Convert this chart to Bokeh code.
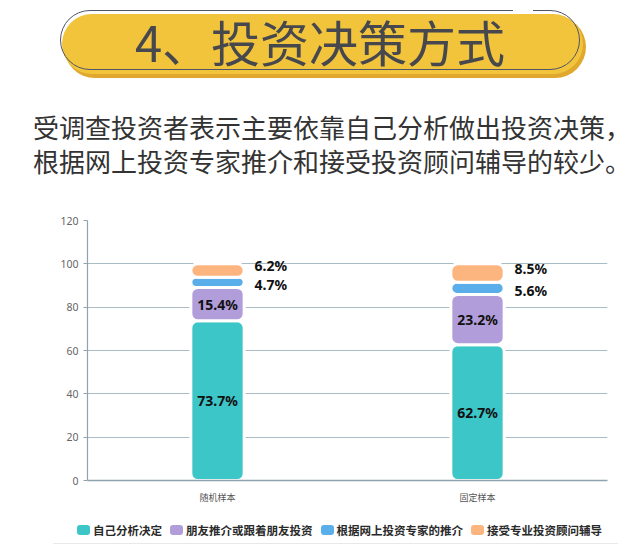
import numpy as np
from bokeh.plotting import figure
from bokeh.layouts import column
from bokeh.models import ColumnDataSource, Range1d, FactorRange, FixedTicker, Div
from bokeh.core.properties import value
from bokeh.embed import file_html
from bokeh.resources import INLINE

# ---- data ----
title_text = "4、投资决策方式"
para_lines = ["受调查投资者表示主要依靠自己分析做出投资决策，",
              "根据网上投资专家推介和接受投资顾问辅导的较少。"]
samples = ["随机样本", "固定样本"]
series_names = ["自己分析决定", "朋友推介或跟着朋友投资", "根据网上投资专家的推介", "接受专业投资顾问辅导"]
self_analysis = [73.7, 62.7]
friends = [15.4, 23.2]
online_experts = [4.7, 5.6]
advisors = [6.2, 8.5]
y_ticks = [0, 20, 40, 60, 80, 100, 120]

colors = ["#3cc6c8", "#b29ddb", "#5aaee9", "#fdb580"]
CJK = "Noto Sans CJK SC"

# ---- header (HTML) ----
abs_ = "position:absolute;"
header_html = f"""
<div style="position:relative;width:640px;height:200px;font-family:'{CJK}';margin:0;padding:0;">
  <div style="{abs_}left:64px;top:16px;width:522px;height:62px;border-radius:31px;background:#e0a82c;"></div>
  <div style="{abs_}left:62px;top:14px;width:521px;height:60px;border-radius:30px;background:#f2c43c;"></div>
  <div style="{abs_}left:60px;top:10px;width:520px;height:60px;border-radius:30px;border:1.5px solid #4e5566;box-sizing:border-box;"></div>
  <div style="{abs_}left:513px;top:7px;width:20px;height:6px;background:#ffffff;"></div>
  <div style="{abs_}left:0px;top:13px;width:640px;text-align:center;font-size:49px;line-height:56px;color:#46484e;white-space:nowrap;">{title_text}</div>
  <div style="{abs_}left:33px;top:111px;font-size:26px;line-height:32px;color:#333333;white-space:nowrap;">{para_lines[0]}</div>
  <div style="{abs_}left:33px;top:145px;font-size:26px;line-height:32px;color:#333333;white-space:nowrap;">{para_lines[1]}</div>
</div>
"""
head = Div(text=header_html, width=640, height=200, margin=0)

# ---- chart ----
p = figure(frame_width=520, frame_height=260, x_range=FactorRange(*samples),
           y_range=Range1d(0, 120), output_backend="svg", toolbar_location=None,
           min_border_left=87, min_border_right=33, min_border_top=20, min_border_bottom=20,
           margin=0)
p.outline_line_color = None
p.xgrid.visible = False
p.ygrid.grid_line_color = "#aabdc6"
p.ygrid.grid_line_width = 1.2
p.yaxis.ticker = FixedTicker(ticks=y_ticks)
p.yaxis.axis_line_color = "#8ea3ad"
p.yaxis.axis_line_width = 1.2
p.yaxis.major_tick_line_color = "#8ea3ad"
p.yaxis.major_tick_out = 4
p.yaxis.major_tick_in = 0
p.yaxis.minor_tick_line_color = None
p.yaxis.major_label_text_font_size = "10.5px"
p.yaxis.major_label_text_color = "#666666"
p.yaxis.major_label_text_font = "Noto Sans"
p.xaxis.axis_line_color = "#8ea3ad"
p.xaxis.axis_line_width = 1.5
p.xaxis.major_tick_line_color = None
p.xaxis.minor_tick_line_color = None
p.xaxis.major_label_text_font_size = "9px"
p.xaxis.major_label_text_color = "#555555"
p.xaxis.major_label_text_font = CJK
p.xaxis.major_label_standoff = 4

# ---- bars ----
series = [self_analysis, friends, online_experts, advisors]
outside_nudge = {2: 2, 3: -5}   # px nudges for the small outside labels
bottoms = np.zeros(len(samples))
in_x, in_y, in_t = [], [], []
out_x, out_y, out_t, out_dy = [], [], [], []
for k, (name, vals, col) in enumerate(zip(series_names, series, colors)):
    vals = np.array(vals)
    tops = bottoms + vals
    src = ColumnDataSource(dict(x=samples, bottom=bottoms.copy(), top=tops))
    p.vbar(x="x", bottom="bottom", top="top", width=0.205, source=src,
           fill_color=col, line_color="white", line_width=3, border_radius=7)
    mids = (bottoms + tops) / 2
    for s, m, v in zip(samples, mids, vals):
        if v >= 10:
            in_x.append(s); in_y.append(m); in_t.append(f"{v:.1f}%")
        else:
            out_x.append(s); out_y.append(m); out_t.append(f"{v:.1f}%")
            out_dy.append(outside_nudge.get(k, 0))
    bottoms = tops

p.text(x=in_x, y=in_y, text=in_t, text_font=value("Noto Sans"), text_font_style="bold",
       text_font_size="14px", text_color="#111111", text_align="center", text_baseline="middle")
p.text(x=out_x, y=out_y, text=out_t, text_font=value("Noto Sans"), text_font_style="bold",
       text_font_size="14px", text_color="#111111", text_align="left", text_baseline="middle",
       x_offset=37, y_offset=out_dy)

# ---- legend (HTML, built from the series names and colours) ----
legend_items = "".join(
    f'<span style="display:inline-block;width:13px;height:10px;border-radius:3px;'
    f'background:{c};margin-right:3px;"></span>'
    f'<span style="margin-right:8px;">{n}</span>'
    for n, c in zip(series_names, colors))
legend_html = f"""
<div style="position:relative;width:640px;height:46px;margin:0;padding:0;">
  <div style="{abs_}left:77px;top:16px;height:16px;display:flex;align-items:center;white-space:nowrap;
       font-family:'{CJK}';font-weight:700;font-size:11.5px;line-height:16px;color:#2a2a2a;">{legend_items}</div>
  <div style="{abs_}left:53px;top:37px;width:565px;height:1px;background:#e8e8e8;"></div>
</div>
"""
leg = Div(text=legend_html, width=640, height=46, margin=0)

layout = column(head, p, leg, spacing=0, margin=0)
open("out.html", "w").write(file_html(layout, INLINE))
